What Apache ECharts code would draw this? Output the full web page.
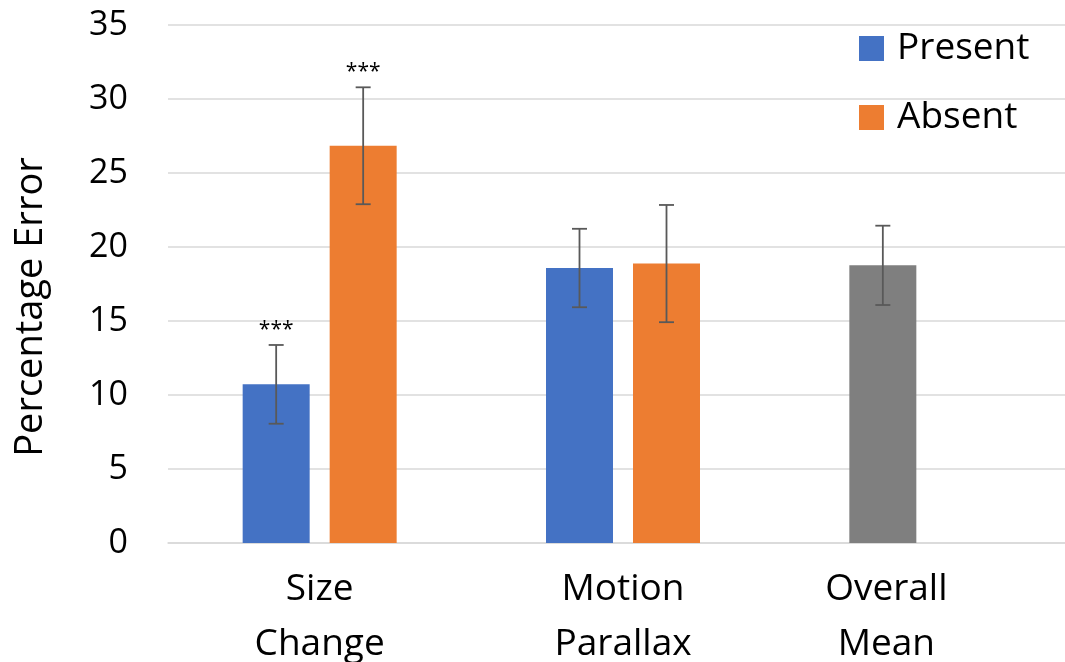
<!DOCTYPE html>
<html>
<head>
<meta charset="utf-8">
<script src="https://cdn.jsdelivr.net/npm/echarts@6/dist/echarts.min.js"></script>
<style>
  html, body { margin: 0; padding: 0; background: #fff; }
  #chart { width: 1065px; height: 662px; }
</style>
</head>
<body>
<div id="chart"></div>
<script>
// ---- data ----
const categories = ['Size\nChange', 'Motion\nParallax', 'Overall\nMean'];
const seriesNames = ['Present', 'Absent'];
const presentValues = [10.72, 18.58, 18.76];
const presentErrors = [2.66, 2.65, 2.68];
const absentValues = [26.84, 18.88, null];
const absentErrors = [3.95, 3.96, null];
const presentSig = ['***', '', ''];
const absentSig = ['***', '', ''];
const yMin = 0, yMax = 35, yStep = 5;

// ---- styling ----
const FONT = '"Open Sans"';
const BLUE = '#4472C4', ORANGE = '#ED7D31', GRAY = '#7F7F7F';
const BAR_W = 67, GAP_PX = 20;
const overallIndex = categories.length - 1;

function errSeries(values, errors, sig, dir) {
  const data = [];
  values.forEach((v, i) => { if (v != null) data.push([i, v, errors[i]]); });
  return {
    type: 'custom',
    data: data,
    encode: { x: 0, y: 1 },
    z: 10,
    silent: true,
    renderItem: function (params, api) {
      const i = api.value(0), v = api.value(1), e = api.value(2);
      const off = dir * (BAR_W + GAP_PX) / 2;
      const x = api.coord([i, v])[0] + off;
      const top = api.coord([i, v + e])[1];
      const bot = api.coord([i, v - e])[1];
      const st = { stroke: '#595959', lineWidth: 1.8 };
      const children = [
        { type: 'line', shape: { x1: x, y1: top, x2: x, y2: bot }, style: st },
        { type: 'line', shape: { x1: x - 7.5, y1: top, x2: x + 7.5, y2: top }, style: st },
        { type: 'line', shape: { x1: x - 7.5, y1: bot, x2: x + 7.5, y2: bot }, style: st }
      ];
      if (sig[i]) {
        children.push({
          type: 'text',
          style: { text: sig[i], x: x, y: top - 15, align: 'center', verticalAlign: 'middle',
                   font: '21px ' + FONT, fill: '#000' }
        });
      }
      return { type: 'group', children: children };
    }
  };
}

const chart = echarts.init(document.getElementById('chart'), null, { renderer: 'canvas' });
chart.setOption({
  animation: false,
  backgroundColor: '#fff',
  textStyle: { fontFamily: FONT },
  grid: { left: 168, top: 25, width: 910, height: 518, outerBoundsMode: 'none', containLabel: false },
  legend: {
    data: seriesNames,
    orient: 'vertical',
    left: 859, top: 30, padding: 0,
    itemWidth: 25, itemHeight: 25, itemGap: 32,
    icon: 'rect',
    textStyle: { fontFamily: FONT, fontSize: 37, color: '#000', padding: [0, 0, 0, 8] }
  },
  xAxis: {
    type: 'category',
    data: categories,
    axisTick: { show: false },
    axisLine: { lineStyle: { color: '#D9D9D9', width: 1.5 } },
    axisLabel: {
      interval: 0,
      hideOverlap: false,
      margin: 19,
      fontFamily: FONT, fontSize: 37, color: '#000', lineHeight: 55,
      formatter: function (val, idx) {
        if (idx === overallIndex) {
          return val.split('\n').map(s => '{shift|' + s + '}').join('\n');
        }
        return val;
      },
      rich: { shift: { fontFamily: FONT, fontSize: 37, color: '#000', lineHeight: 55, padding: [0, 80, 0, 0] } }
    }
  },
  yAxis: {
    type: 'value',
    min: yMin, max: yMax, interval: yStep,
    name: 'Percentage Error',
    nameLocation: 'middle',
    nameGap: 118,
    nameTextStyle: { fontFamily: FONT, fontSize: 38, color: '#000', padding: [0, 46, 0, 0] },
    axisLine: { show: false },
    axisTick: { show: false },
    axisLabel: { margin: 40, fontFamily: FONT, fontSize: 34, color: '#000' },
    splitLine: { lineStyle: { color: '#D9D9D9', width: 1.5 } }
  },
  series: [
    {
      name: seriesNames[0], type: 'bar', barWidth: BAR_W, barGap: (GAP_PX / BAR_W * 100) + '%',
      itemStyle: { color: BLUE },
      data: presentValues.map((v, i) => i === overallIndex ? { value: v, itemStyle: { color: GRAY } } : v)
    },
    {
      name: seriesNames[1], type: 'bar', barWidth: BAR_W,
      itemStyle: { color: ORANGE },
      data: absentValues.map(v => v == null ? '-' : v)
    },
    errSeries(presentValues, presentErrors, presentSig, -1),
    errSeries(absentValues, absentErrors, absentSig, 1)
  ]
});
</script>
</body>
</html>
